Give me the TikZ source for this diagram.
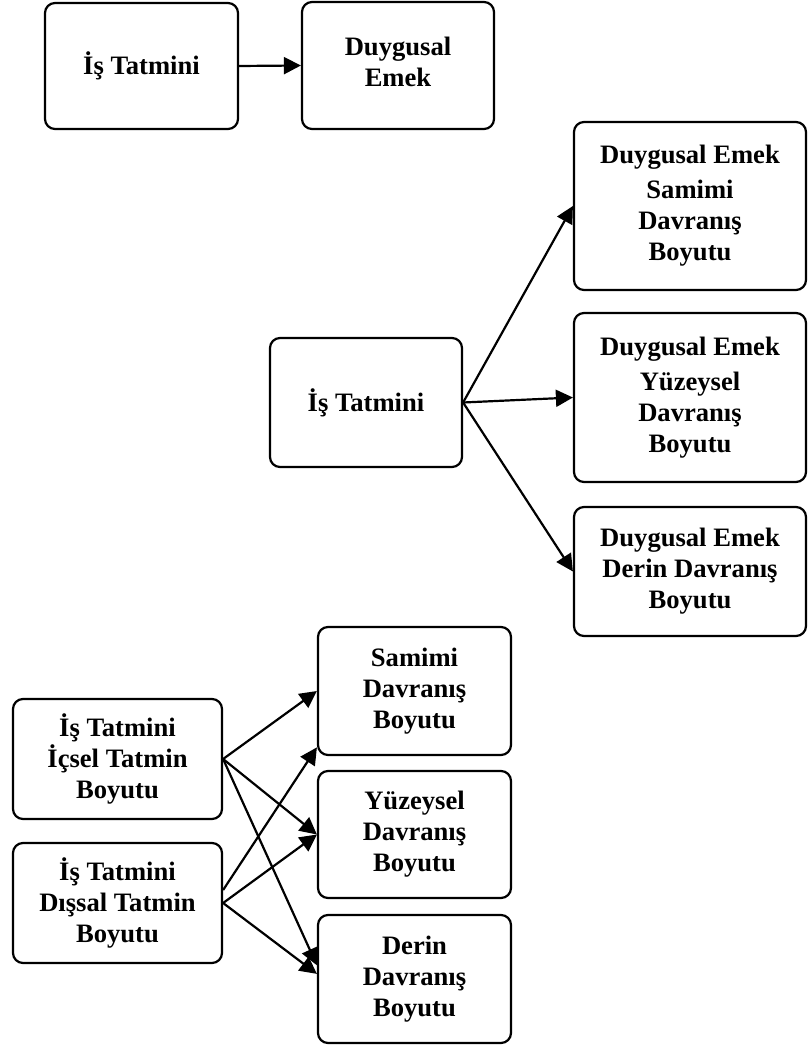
\documentclass[tikz,border=0pt]{standalone}
\usepackage{fontspec}
\setmainfont{Liberation Serif}       % proche de Times
\usepackage{tikz}
\usetikzlibrary{arrows.meta,         % pointes de fleches
           positioning}
\tikzset{kutu/.style={draw,line width=1.1pt,rounded corners=5pt,align=center,inner sep=2pt,
           font=\fontsize{13.3}{15.5}\selectfont\bfseries},
         ok/.style={line width=1.1pt,-{Triangle[length=8.5pt,width=8.5pt]}}}

\begin{document}
\begin{tikzpicture}[x=0.5pt,y=-0.5pt]
\useasboundingbox(0,0)rectangle(807,1047);
\node[kutu,minimum width=96.5pt,minimum height=63pt](a)at(141.5,66){İş Tatmini};
\node[kutu,minimum width=96pt,minimum height=63.5pt](b)at(398,65.5){Duygusal\\Emek\\[-12pt]};
\draw[ok](a.east)--(b.west);
\node[kutu,minimum width=96pt,minimum height=64.5pt](m)at(366,402.5){İş Tatmini};
\node[kutu,minimum width=116pt,minimum height=84pt](r1)at(690,206){Duygusal Emek\\[2pt]Samimi\\Davranış\\Boyutu};
\node[kutu,minimum width=116pt,minimum height=84.5pt](r2)at(690,397.5){Duygusal Emek\\[2pt]Yüzeysel\\Davranış\\Boyutu};
\node[kutu,minimum width=116pt,minimum height=64.5pt](r3)at(690,571.5){Duygusal Emek\\Derin Davranış\\Boyutu};
\foreach \r in {r1,r2,r3} \draw[ok](m.east)--(\r.west);
\node[kutu,minimum width=104.5pt,minimum height=60pt](l1)at(117.5,759){İş Tatmini\\İçsel Tatmin\\Boyutu};
\node[kutu,minimum width=104.5pt,minimum height=60pt](l2)at(117.5,903){İş Tatmini\\Dışsal Tatmin\\Boyutu};
\node[kutu,minimum width=96.5pt,minimum height=64pt](s1)at(414.5,691){Samimi\\Davranış\\Boyutu};
\node[kutu,minimum width=96.5pt,minimum height=63.5pt](s2)at(414.5,834.5){Yüzeysel\\Davranış\\Boyutu};
\node[kutu,minimum width=96.5pt,minimum height=64pt](s3)at(414.5,979){Derin\\Davranış\\Boyutu};
\draw[ok](l1.east)--(s1.west);
\draw[ok](l1.east)--(s2.west);
\draw[ok](l1.east)--(s3.172);
\draw[ok](l2.7)--(s1.210);
\draw[ok](l2.east)--(s2.west);
\draw[ok](l2.east)--(s3.177);
\end{tikzpicture}
\end{document}
